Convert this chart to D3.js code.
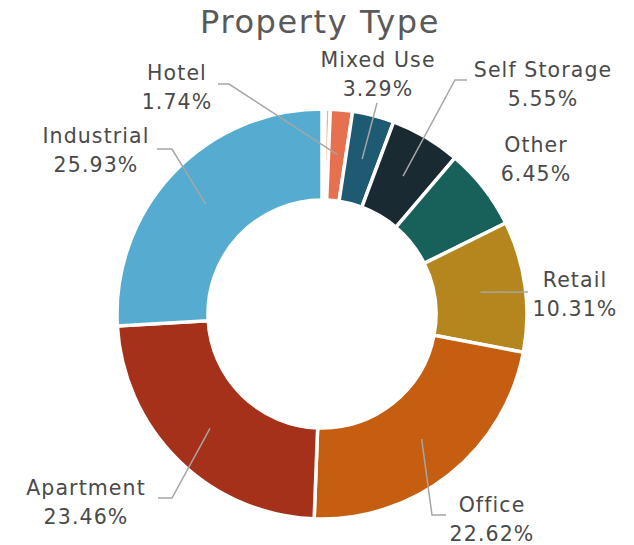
<!DOCTYPE html>
<html>
<head>
<meta charset="utf-8">
<script src="https://cdn.jsdelivr.net/npm/d3@7"></script>
<style>
  html, body { margin: 0; padding: 0; background: #ffffff; }
  svg { display: block; }
  text { font-family: "DejaVu Sans", sans-serif; }
</style>
</head>
<body>
<svg id="chart" width="634" height="545"></svg>
<script>
// Property type shares (percent of total), clockwise from 12 o'clock
const categories = ["", "", "Hotel", "Mixed Use", "Self Storage", "Other", "Retail", "Office", "Apartment", "Industrial"];
const shares     = [0.25, 0.40, 1.74, 3.29, 5.55, 6.45, 10.31, 22.62, 23.46, 25.93];
const colors     = ["#ffffff", "#f4b183", "#e7704f", "#1e5a72", "#1a2a33", "#17615a", "#b5861d", "#c55e10", "#a5311a", "#55acd0"];
const shareLabels = ["", "", "1.74%", "3.29%", "5.55%", "6.45%", "10.31%", "22.62%", "23.46%", "25.93%"];

// Label placement relative to the chart centre: text centre x, first baseline y,
// and leader-line start / elbow points (null when no leader is drawn)
const labelLayout = [
  null,
  null,
  { x: -145, y: -234, start: [-104, -230], elbow: [-93, -230] },
  { x: 56,   y: -247, start: [55, -211],   elbow: [55, -211] },
  { x: 221,  y: -237, start: [145, -234],  elbow: [133, -234] },
  { x: 214,  y: -162, start: null,         elbow: null },
  { x: 253,  y: -27,  start: [206, -22],   elbow: [206, -22] },
  { x: 170,  y: 198,  start: [124, 201],   elbow: [110, 201] },
  { x: -236, y: 181,  start: [-164, 184],  elbow: [-150, 184] },
  { x: -226, y: -171, start: [-165, -165], elbow: [-150, -165] }
];

const cx = 322, cy = 314;
const outerR = 205, innerR = 114, anchorR = 160;

const svg = d3.select("#chart");

svg.append("text")
  .attr("x", 320).attr("y", 33)
  .attr("text-anchor", "middle")
  .attr("font-size", 32)
  .attr("letter-spacing", 1.6)
  .attr("fill", "#595959")
  .text("Property Type");

const data = categories.map((c, i) => ({ name: c, value: shares[i], color: colors[i], label: shareLabels[i], layout: labelLayout[i] }));

const pie = d3.pie().sort(null).value(d => d.value).startAngle(0).endAngle(2 * Math.PI);
const arc = d3.arc().innerRadius(innerR).outerRadius(outerR);
const anchorArc = d3.arc().innerRadius(anchorR).outerRadius(anchorR);

const g = svg.append("g").attr("transform", `translate(${cx},${cy})`);
const arcs = pie(data);

g.selectAll("path.slice")
  .data(arcs)
  .join("path")
  .attr("class", "slice")
  .attr("d", arc)
  .attr("fill", d => d.data.color)
  .attr("stroke", "#ffffff")
  .attr("stroke-width", 3.5)
  .attr("stroke-linejoin", "miter");

// Leader lines
const labelled = arcs.filter(d => d.data.layout);
g.selectAll("path.leader")
  .data(labelled.filter(d => d.data.layout.start))
  .join("path")
  .attr("class", "leader")
  .attr("fill", "none")
  .attr("stroke", "#a6a6a6")
  .attr("stroke-width", 1.5)
  .attr("d", d => {
    const L = d.data.layout;
    const c = anchorArc.centroid(d);
    return d3.line()([L.start, L.elbow, c]);
  });

// Category and share labels
const lbl = g.selectAll("text.lbl")
  .data(labelled)
  .join("text")
  .attr("class", "lbl")
  .attr("text-anchor", "middle")
  .attr("font-size", 20.5)
  .attr("letter-spacing", 1.1)
  .attr("fill", "#4a4a4a");
lbl.append("tspan")
  .attr("x", d => d.data.layout.x)
  .attr("y", d => d.data.layout.y)
  .text(d => d.data.name);
lbl.append("tspan")
  .attr("x", d => d.data.layout.x)
  .attr("y", d => d.data.layout.y + 29)
  .text(d => d.data.label);
</script>
</body>
</html>
